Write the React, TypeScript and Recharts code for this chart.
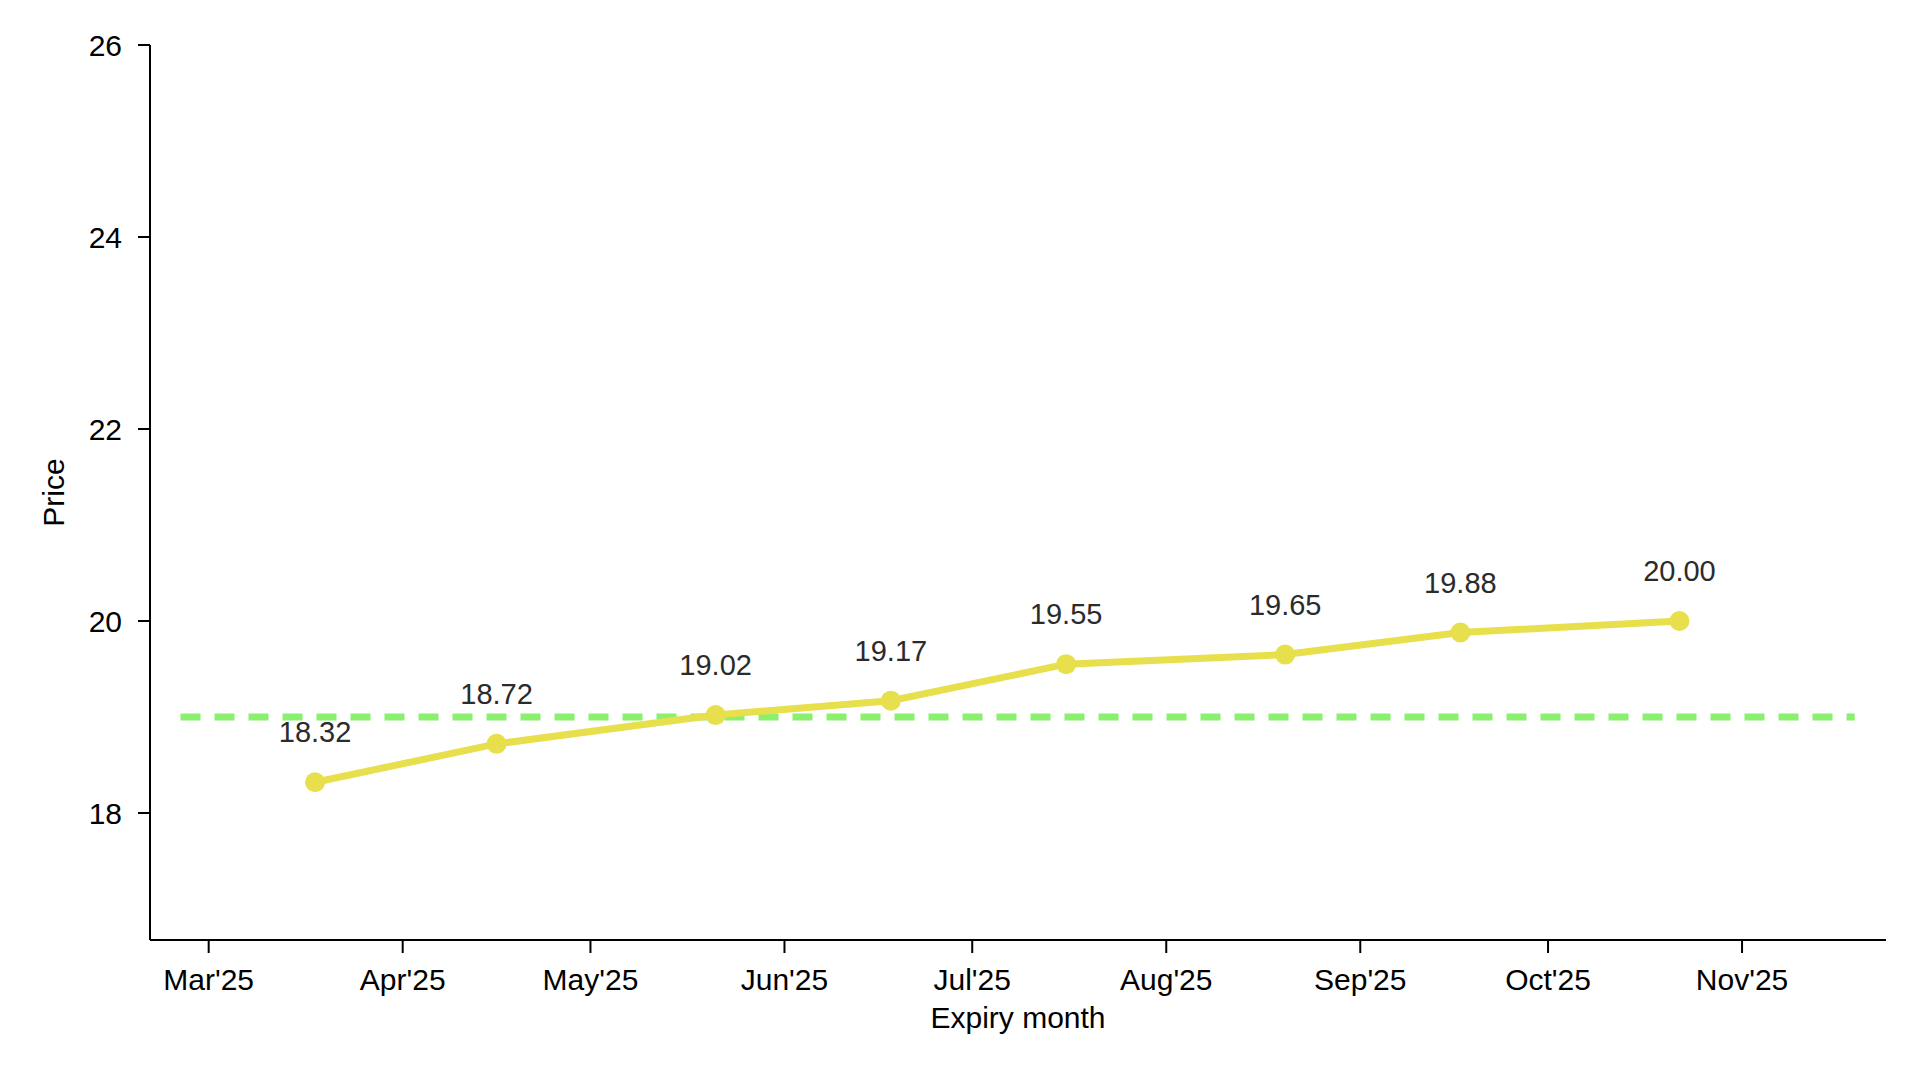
import React from "react";
import {
  LineChart,
  Line,
  XAxis,
  YAxis,
  LabelList,
  Label,
} from "recharts";

// futures curve, one point per expiry
const expiryDates = [
  "2025-03-18",
  "2025-04-16",
  "2025-05-21",
  "2025-06-18",
  "2025-07-16",
  "2025-08-20",
  "2025-09-17",
  "2025-10-22",
];

const futuresPrices = [18.32, 18.72, 19.02, 19.17, 19.55, 19.65, 19.88, 20.0];

// spot level, drawn as a flat dashed segment
const spotDates = ["2025-02-24T12:00:00", "2025-11-19T00:00:00"];
const spotPrice = 19.0;

const monthTicks = [
  "2025-03-01",
  "2025-04-01",
  "2025-05-01",
  "2025-06-01",
  "2025-07-01",
  "2025-08-01",
  "2025-09-01",
  "2025-10-01",
  "2025-11-01",
];

const xDomain = ["2025-02-19T15:00:00", "2025-11-24T00:00:00"];
const yDomain = [16.677, 26];
const yTicks = [18, 20, 22, 24, 26];

const MONTHS = ["Jan", "Feb", "Mar", "Apr", "May", "Jun", "Jul", "Aug", "Sep", "Oct", "Nov", "Dec"];

const toTs = (s: string) => Date.parse(s.length > 10 ? s + "Z" : s + "T00:00:00Z");

const curveData = expiryDates.map((d, i) => ({ t: toTs(d), price: futuresPrices[i] }));
const spotData = spotDates.map((d) => ({ t: toTs(d), price: spotPrice }));

const FONT = "'Liberation Sans', Arial, sans-serif";
const YELLOW = "#e7df4b";
const GREEN = "#8af06e";

const fmtMonth = (t: number) => {
  const d = new Date(t);
  return MONTHS[d.getUTCMonth()] + "'" + String(d.getUTCFullYear()).slice(2);
};

export default function App() {
  return (
    <div style={{ position: "absolute", left: 0, top: 0, background: "#fff" }}>
      <LineChart
        width={1920}
        height={1069}
        margin={{ top: 45, right: 34, bottom: 0, left: 0 }}
      >
        <XAxis
          dataKey="t"
          type="number"
          scale="time"
          domain={xDomain.map(toTs)}
          ticks={monthTicks.map(toTs)}
          tickFormatter={fmtMonth}
          allowDataOverflow
          height={129}
          stroke="#000"
          strokeWidth={2}
          tickSize={13}
          tickMargin={16}
          tick={{ fill: "#000", fontSize: 30, fontFamily: FONT }}
        >
          <Label
            content={({ viewBox }: any) => (
              <text
                x={viewBox.x + viewBox.width / 2}
                y={viewBox.y + 88}
                textAnchor="middle"
                fontSize={30}
                fontFamily={FONT}
                fill="#000"
              >
                Expiry month
              </text>
            )}
          />
        </XAxis>
        <YAxis
          type="number"
          domain={yDomain}
          ticks={yTicks}
          allowDataOverflow
          width={150}
          stroke="#000"
          strokeWidth={2}
          tickSize={12}
          tickMargin={16}
          tick={{ fill: "#000", fontSize: 30, fontFamily: FONT }}
        >
          <Label
            content={({ viewBox }: any) => {
              const cx = 53;
              const cy = viewBox.y + viewBox.height / 2;
              return (
                <text
                  x={cx}
                  y={cy}
                  transform={`rotate(-90 ${cx} ${cy})`}
                  textAnchor="middle"
                  dominantBaseline="central"
                  fontSize={30}
                  fontFamily={FONT}
                  fill="#000"
                >
                  Price
                </text>
              );
            }}
          />
        </YAxis>
        <Line
          data={spotData}
          dataKey="price"
          stroke={GREEN}
          strokeWidth={7}
          strokeDasharray="20 14"
          dot={false}
          activeDot={false}
          isAnimationActive={false}
        />
        <Line
          data={curveData}
          dataKey="price"
          stroke={YELLOW}
          strokeWidth={7}
          dot={{ r: 10, fill: YELLOW, stroke: "none" }}
          activeDot={false}
          isAnimationActive={false}
        >
          <LabelList
            dataKey="price"
            position="top"
            offset={40}
            formatter={(v: any) => Number(v).toFixed(2)}
            style={{ fill: "#2b2b2b", fontSize: 29, fontFamily: FONT }}
          />
        </Line>
      </LineChart>
    </div>
  );
}
